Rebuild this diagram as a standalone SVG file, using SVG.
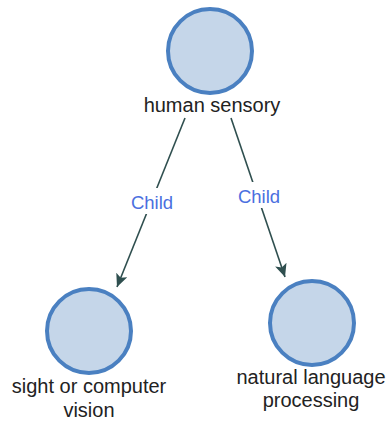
<svg xmlns="http://www.w3.org/2000/svg" width="388" height="424" viewBox="0 0 388 424">
  <style>
    .node circle { fill: #c5d6e9; stroke: #4a80c1; stroke-width: 4; }
    .node text { font-family: "Liberation Sans", Arial, sans-serif; font-size: 20px; fill: #222; text-anchor: middle; }
    .edge line { stroke: #2f4f4f; stroke-width: 1.6; }
    .edge rect { fill: #ffffff; }
    .edge text { font-family: "Liberation Sans", Arial, sans-serif; font-size: 18.5px; fill: #4a6fe0; text-anchor: middle; }
  </style>
  <defs>
    <marker id="arrow" markerUnits="userSpaceOnUse" markerWidth="14" markerHeight="12" refX="13" refY="6" orient="auto">
      <path d="M0,0 L13,6 L0,12 L3,6 Z" fill="#2f4f4f"/>
    </marker>
  </defs>

  <g id="connectors">
    <g class="edge" id="edge-sight">
      <line x1="185" y1="118" x2="117" y2="287" marker-end="url(#arrow)"/>
      <rect x="127" y="188" width="50" height="26"/>
      <text x="152" y="209">Child</text>
    </g>
    <g class="edge" id="edge-nlp">
      <line x1="231" y1="118" x2="285" y2="277" marker-end="url(#arrow)"/>
      <rect x="234" y="182" width="50" height="26"/>
      <text x="259" y="203">Child</text>
    </g>
  </g>

  <g class="node" id="node-human-sensory">
    <circle cx="210" cy="51" r="42"/>
    <text x="212" y="112">human sensory</text>
  </g>

  <g class="node" id="node-sight">
    <circle cx="89" cy="331" r="42"/>
    <text x="89" y="393">sight or computer</text>
    <text x="89" y="417">vision</text>
  </g>

  <g class="node" id="node-nlp">
    <circle cx="312" cy="323" r="42"/>
    <text x="311" y="384">natural language</text>
    <text x="311" y="407">processing</text>
  </g>
</svg>
